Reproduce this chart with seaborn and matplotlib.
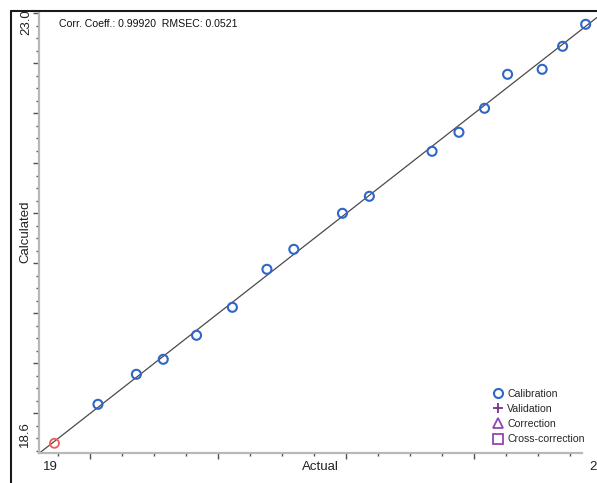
import matplotlib
matplotlib.use("Agg")
import matplotlib.pyplot as plt
from matplotlib.lines import Line2D
from matplotlib.ticker import MultipleLocator, NullFormatter
import seaborn as sns
import pandas as pd

# ---- data ----
cal_actual = [19.06, 19.36, 19.57, 19.83, 20.11, 20.38, 20.59, 20.97, 21.18,
              21.67, 21.88, 22.08, 22.26, 22.53, 22.69, 22.87]
cal_calc = [19.09, 19.39, 19.54, 19.78, 20.06, 20.44, 20.64, 21.00, 21.17,
            21.62, 21.81, 22.05, 22.39, 22.44, 22.67, 22.89]
sel_actual = [18.72]
sel_calc = [18.70]
fit_slope = 1.0
fit_intercept = 0.0
y_min, y_max = 18.6, 23.0
x_min_label, x_max_label = "19", "23"
y_min_label, y_max_label = "18.6", "23.0"
stats_text = "Corr. Coeff.: 0.99920  RMSEC: 0.0521"
legend_labels = ["Calibration", "Validation", "Correction", "Cross-correction"]

W, H = 597, 483
sns.set_theme(style="white")
plt.rcParams["font.family"] = ["Liberation Sans", "DejaVu Sans"]

fig = plt.figure(figsize=(W / 100, H / 100), dpi=100)
fig.patch.set_facecolor("white")

def fx(px):
    return px / W

def fy(py):
    return 1 - py / H

left_px, bottom_px, top_px = 39.1, 453.3, 13.3
px_per_x = 128.0
ax = fig.add_axes([fx(left_px), fy(bottom_px), (W - left_px) / W, (bottom_px - top_px) / H])
ax.set_facecolor("white")
x_max = y_min + (W - left_px) / px_per_x
ax.set_xlim(y_min, x_max)
ax.set_ylim(y_min, y_max)

df_cal = pd.DataFrame({"Actual": cal_actual, "Calculated": cal_calc})
df_sel = pd.DataFrame({"Actual": sel_actual, "Calculated": sel_calc})

# regression line
line_x = [y_min, x_max]
line_y = [fit_slope * v + fit_intercept for v in line_x]
sns.lineplot(x=line_x, y=line_y, ax=ax, color="#4a4a4a", linewidth=0.9, zorder=2)

sns.scatterplot(data=df_cal, x="Actual", y="Calculated", ax=ax, marker="o", s=42,
                facecolor="none", edgecolor="#2f66c8", linewidth=1.5, zorder=3)
sns.scatterplot(data=df_sel, x="Actual", y="Calculated", ax=ax, marker="o", s=42,
                facecolor="none", edgecolor="#f05a5a", linewidth=1.3, zorder=3)

ax.set_xlabel("")
ax.set_ylabel("")
for s in ["top", "right"]:
    ax.spines[s].set_visible(False)
for s in ["left", "bottom"]:
    ax.spines[s].set_color("#b8b8b8")
    ax.spines[s].set_linewidth(1.6)
ax.spines["bottom"].set_bounds(y_min, y_min + (582 - left_px) / px_per_x)

ax.xaxis.set_major_locator(MultipleLocator(1.0))
ax.xaxis.set_minor_locator(MultipleLocator(0.25))
ax.yaxis.set_major_locator(MultipleLocator(0.5))
ax.yaxis.set_minor_locator(MultipleLocator(0.125))
ax.xaxis.set_major_formatter(NullFormatter())
ax.yaxis.set_major_formatter(NullFormatter())
ax.tick_params(which="major", direction="out", length=4.5, width=1.0, color="#505050",
               bottom=True, left=True)
ax.tick_params(which="minor", direction="out", length=2, width=1.0, color="#505050",
               bottom=True, left=True)

# texts
fig.text(fx(59), fy(24), stats_text, fontsize=7.6, ha="left", va="center", color="#111111")
fig.text(fx(50), fy(467), x_min_label, fontsize=9.5, ha="center", va="center", color="#222222")
fig.text(fx(320), fy(467), "Actual", fontsize=9.5, ha="center", va="center", color="#222222")
fig.text(fx(589), fy(467), x_max_label, fontsize=9.5, ha="left", va="center", color="#222222")
fig.text(fx(25), fy(434), y_min_label, fontsize=9.5, rotation=90, ha="center", va="center", color="#222222")
fig.text(fx(25), fy(232), "Calculated", fontsize=9.5, rotation=90, ha="center", va="center", color="#222222")
fig.text(fx(26), fy(22), y_max_label, fontsize=9.5, rotation=90, ha="center", va="center", color="#222222")

# outer frame lines (top and left)
fig.add_artist(Line2D([fx(11), 1], [fy(10.7), fy(10.7)], color="#1a1a1a", linewidth=1.5))
fig.add_artist(Line2D([fx(11), fx(11)], [fy(10.7), 0], color="#1a1a1a", linewidth=1.5))

# legend
purple = "#9445b0"
handles = [
    Line2D([], [], linestyle="none", marker="o", markersize=6.5, markerfacecolor="none",
           markeredgecolor="#2f66c8", markeredgewidth=1.5),
    Line2D([], [], linestyle="none", marker="+", markersize=7, color="#7a3090", markeredgewidth=1.3),
    Line2D([], [], linestyle="none", marker="^", markersize=6.5, markerfacecolor="none",
           markeredgecolor=purple, markeredgewidth=1.3),
    Line2D([], [], linestyle="none", marker="s", markersize=6.5, markerfacecolor="none",
           markeredgecolor=purple, markeredgewidth=1.3),
]
fig.legend(handles, legend_labels, loc="upper left", bbox_to_anchor=(fx(493), fy(389)),
           frameon=False, fontsize=7.6, borderpad=0, borderaxespad=0, handlelength=0.9,
           handletextpad=0.45, labelspacing=0.48)

fig.savefig("out.png", dpi=100)
